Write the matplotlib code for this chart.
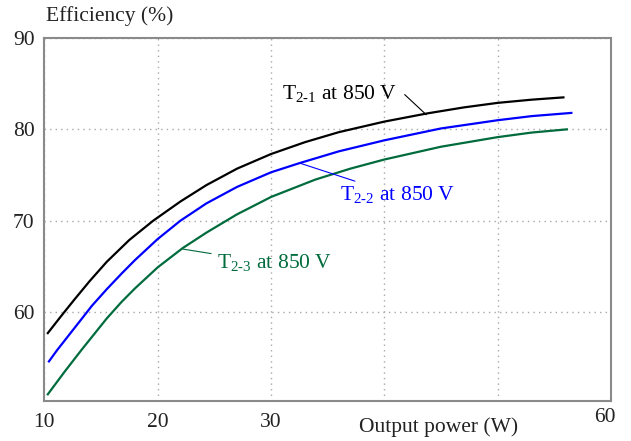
import numpy as np
import matplotlib
matplotlib.use("Agg")
import matplotlib.pyplot as plt

plt.rcParams['font.family'] = ['Liberation Serif', 'DejaVu Serif']
plt.rcParams['mathtext.fontset'] = 'custom'
plt.rcParams['mathtext.rm'] = 'Liberation Serif'

# efficiency curves vs output power
p_21 = [10.3, 11.5, 12.6, 14, 15.5, 17.5, 19.6, 22, 24.3, 27, 30, 33, 36, 40, 43.8, 47, 50, 53, 55.8]
eff_21 = [57.7, 59.6, 61.3, 63.4, 65.5, 67.9, 70.0, 72.1, 73.9, 75.7, 77.3, 78.6, 79.7, 80.85, 81.75, 82.4, 82.9, 83.25, 83.5]

p_22 = [10.4, 11.1, 13, 14.2, 15.5, 16.8, 18, 20, 22, 24.3, 27, 30, 32.5, 36, 40, 45, 50, 53, 56.5]
eff_22 = [54.6, 55.8, 58.8, 60.7, 62.5, 64.2, 65.7, 68.0, 70.0, 71.9, 73.7, 75.3, 76.3, 77.6, 78.8, 80.1, 81.0, 81.45, 81.8]

p_23 = [10.3, 11.8, 13.3, 15.5, 16.8, 18, 20, 22.2, 24.3, 27, 30, 33.9, 37, 40, 45, 50, 53, 56.1]
eff_23 = [51.0, 53.5, 55.9, 59.3, 61.1, 62.6, 64.9, 67.0, 68.7, 70.7, 72.6, 74.5, 75.7, 76.7, 78.1, 79.15, 79.65, 80.0]

x_ticks = [10, 20, 30, 40, 50, 60]
x_labels = ['10', '20', '30', '', '', '']
y_ticks = [60, 70, 80, 90]

c_21, c_22, c_23 = 'black', '#0000ff', '#006b3c'
fs = 15.5

fig = plt.figure(figsize=(6.31, 4.41), dpi=100)
ax = fig.add_axes([44.4 / 631, 40.3 / 441, (611 - 44.4) / 631, (403 - 40.3) / 441])

for p, eff, c in [(p_21, eff_21, c_21), (p_22, eff_22, c_22), (p_23, eff_23, c_23)]:
    ax.plot(p, eff, color=c, lw=1.6, solid_joinstyle='round')

ax.set_xlim(10, 60)
ax.set_ylim(50.3, 90)
ax.set_xticks(x_ticks)
ax.set_xticklabels(x_labels)
ax.set_yticks(y_ticks)
ax.tick_params(length=0, labelsize=fs, colors='#222222')
ax.tick_params(axis='x', pad=9)
ax.tick_params(axis='y', pad=7)
ax.grid(True, color='#a8a8a8', linestyle=(0, (1, 3)), lw=1)
for s in ax.spines.values():
    s.set_color('#8a8a8a')
    s.set_linewidth(1.5)

ax.text(0.99, -0.02, '60', transform=ax.transAxes, ha='center', va='top',
        fontsize=fs, color='#222222')
fig.text(439 / 631, 1 - 427 / 441, 'Output power (W)', ha='center', va='center',
         fontsize=fs, color='#222222')
fig.text(46 / 631, 1 - 16 / 441, 'Efficiency (%)', ha='left', va='center',
         fontsize=fs, color='#222222')

# curve labels with leader lines
ax.annotate(r'T$_{\mathrm{2‐1}}$ at 850 V', xy=(43.7, 81.6), xytext=(41.1, 83.9),
            ha='right', va='center', fontsize=fs, color=c_21,
            arrowprops=dict(arrowstyle='-', color=c_21, lw=0.8, relpos=(1.0, 0.8),
                            shrinkA=5, shrinkB=0))
ax.annotate(r'T$_{\mathrm{2‐2}}$ at 850 V', xy=(32.55, 76.3), xytext=(36.1, 72.8),
            ha='left', va='center', fontsize=fs, color=c_22,
            arrowprops=dict(arrowstyle='-', color=c_22, lw=0.8, shrinkA=1, shrinkB=0))
ax.annotate(r'T$_{\mathrm{2‐3}}$ at 850 V', xy=(22.2, 66.9), xytext=(25.2, 65.3),
            ha='left', va='center', fontsize=fs, color=c_23,
            arrowprops=dict(arrowstyle='-', color=c_23, lw=0.8, shrinkA=2, shrinkB=0))

fig.savefig('out.png', dpi=100)
